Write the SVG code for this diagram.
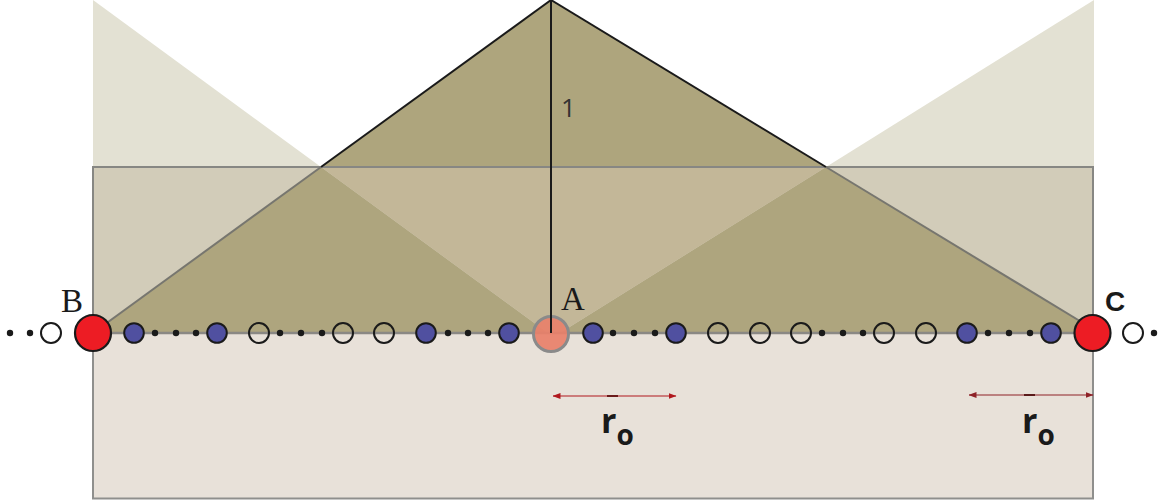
<svg xmlns="http://www.w3.org/2000/svg" width="1175" height="503" viewBox="0 0 1175 503">
<defs>
<style>
.dot{fill:#1a1a1a}
.blue{fill:#5050a0;stroke:#1a1a1a;stroke-width:2}
.open{fill:none;stroke:#1a1a1a;stroke-width:2}
.red{fill:#ed1c24;stroke:#1a1a1a;stroke-width:2.2}
.serif{font-family:"Liberation Serif","Times New Roman",serif;fill:#1a1a1a}
.sans{font-family:"Open Sans","Liberation Sans",Arial,sans-serif}
</style>
<marker id="ah" viewBox="0 0 8 6" refX="7.5" refY="3" markerWidth="8" markerHeight="6" markerUnits="userSpaceOnUse" orient="auto-start-reverse">
<path d="M0,0 L8,3 L0,6 Z" fill="#b0181e"/>
</marker>
<marker id="ah2" viewBox="0 0 8 6" refX="7.5" refY="3" markerWidth="8" markerHeight="6" markerUnits="userSpaceOnUse" orient="auto-start-reverse">
<path d="M0,0 L8,3 L0,6 Z" fill="#8e2228"/>
</marker>
</defs>
<rect width="1175" height="503" fill="#ffffff"/>
<g id="background">
<rect x="93" y="333" width="1000" height="165.5" fill="#e8e1d9" stroke="#8f8f8d" stroke-width="2"/>
<polygon points="93,0 321,167 93,167" fill="#e3e1d3"/>
<polygon points="1094,0 1094,167 826,167" fill="#e3e1d3"/>
<polygon points="551,0 321,167 826,167" fill="#aea57d"/>
<rect x="93" y="167" width="1000" height="166" fill="#d2ccb9"/>
<polygon points="321,167 93,333 548,333" fill="#aea57e"/>
<polygon points="826,167 1093,329 1093,333 560,333" fill="#aea57e"/>
<polygon points="321,167 826,167 560,333 548,333" fill="#c3b798"/>
<rect x="93" y="167" width="1000" height="166" fill="none" stroke="#878783" stroke-width="2"/>
<line x1="93" y1="333" x2="1093" y2="333" stroke="#8a8884" stroke-width="2.5"/>
<line x1="551" y1="0" x2="321" y2="167" stroke="#1a1a1a" stroke-width="2"/>
<line x1="551" y1="0" x2="826" y2="167" stroke="#1a1a1a" stroke-width="2"/>
<line x1="321" y1="167" x2="93" y2="333" stroke="#77766f" stroke-width="2"/>
<line x1="826" y1="167" x2="1093" y2="329" stroke="#77766f" stroke-width="2"/>
<text x="561" y="117" class="sans" font-size="26" fill="#333333">1</text>
</g>
<g id="dots">
<circle class="dot" cx="10" cy="333" r="3.2"/>
<circle class="dot" cx="30" cy="333" r="3.2"/>
<circle class="open" cx="51" cy="333" r="10" style="fill:#fff"/>
<circle class="blue" cx="134" cy="333" r="9.8"/>
<circle class="dot" cx="155" cy="333" r="3.2"/>
<circle class="dot" cx="176" cy="333" r="3.2"/>
<circle class="dot" cx="196" cy="333" r="3.2"/>
<circle class="blue" cx="217" cy="333" r="9.8"/>
<circle class="open" cx="259" cy="333" r="10"/>
<circle class="dot" cx="280" cy="333" r="3.2"/>
<circle class="dot" cx="301" cy="333" r="3.2"/>
<circle class="dot" cx="322" cy="333" r="3.2"/>
<circle class="open" cx="343" cy="333" r="10"/>
<circle class="open" cx="384" cy="333" r="10"/>
<circle class="blue" cx="426" cy="333" r="9.8"/>
<circle class="dot" cx="448" cy="333" r="3.2"/>
<circle class="dot" cx="468" cy="333" r="3.2"/>
<circle class="dot" cx="488" cy="333" r="3.2"/>
<circle class="blue" cx="509" cy="333" r="9.8"/>
<circle class="blue" cx="593" cy="333" r="9.8"/>
<circle class="dot" cx="613" cy="333" r="3.2"/>
<circle class="dot" cx="634" cy="333" r="3.2"/>
<circle class="dot" cx="655" cy="333" r="3.2"/>
<circle class="blue" cx="676" cy="333" r="9.8"/>
<circle class="open" cx="718" cy="333" r="10"/>
<circle class="open" cx="760" cy="333" r="10"/>
<circle class="open" cx="801" cy="333" r="10"/>
<circle class="dot" cx="822" cy="333" r="3.2"/>
<circle class="dot" cx="843" cy="333" r="3.2"/>
<circle class="dot" cx="863" cy="333" r="3.2"/>
<circle class="open" cx="884" cy="333" r="10"/>
<circle class="open" cx="926" cy="333" r="10"/>
<circle class="blue" cx="967" cy="333" r="9.8"/>
<circle class="dot" cx="988" cy="333" r="3.2"/>
<circle class="dot" cx="1009" cy="333" r="3.2"/>
<circle class="dot" cx="1030" cy="333" r="3.2"/>
<circle class="blue" cx="1051" cy="333" r="9.8"/>
<circle class="open" cx="1133" cy="333" r="10" style="fill:#fff"/>
<circle class="dot" cx="1154" cy="333" r="3.2"/>
</g>
<g id="node-B">
<circle class="red" cx="93" cy="333" r="18"/>
<text x="61" y="312" class="serif" font-size="33">B</text>
</g>
<g id="node-A">
<circle cx="551" cy="334" r="17.5" fill="#e8806a" fill-opacity="0.92" stroke="#8a8a8a" stroke-width="3"/>
<line x1="551" y1="0" x2="551" y2="333" stroke="#1a1a1a" stroke-width="2"/>
<text x="561" y="310" class="serif" font-size="33">A</text>
</g>
<g id="node-C">
<circle class="red" cx="1092.5" cy="333" r="18"/>
<text x="1105" y="311" font-family="'Liberation Sans',Arial,sans-serif" font-weight="bold" font-size="28" fill="#1a1a1a">C</text>
</g>
<g id="connectors">
<line x1="553" y1="396" x2="676" y2="396" stroke="#b0181e" stroke-width="1.2" marker-start="url(#ah)" marker-end="url(#ah)"/>
<line x1="607" y1="396" x2="618" y2="396" stroke="#6a1a1a" stroke-width="2"/>
<line x1="969" y1="395" x2="1093" y2="395" stroke="#8e2228" stroke-width="1.2" marker-start="url(#ah2)" marker-end="url(#ah2)"/>
<line x1="1024" y1="395" x2="1035" y2="395" stroke="#5a1a1a" stroke-width="2"/>
</g>
<g id="labels">
<text x="601" y="433" class="sans" font-weight="700" font-size="34" fill="#1a1a1a">r<tspan font-size="28" dy="12">o</tspan></text>
<text x="1022" y="433" class="sans" font-weight="700" font-size="34" fill="#1a1a1a">r<tspan font-size="28" dy="12">o</tspan></text>
</g>
</svg>
